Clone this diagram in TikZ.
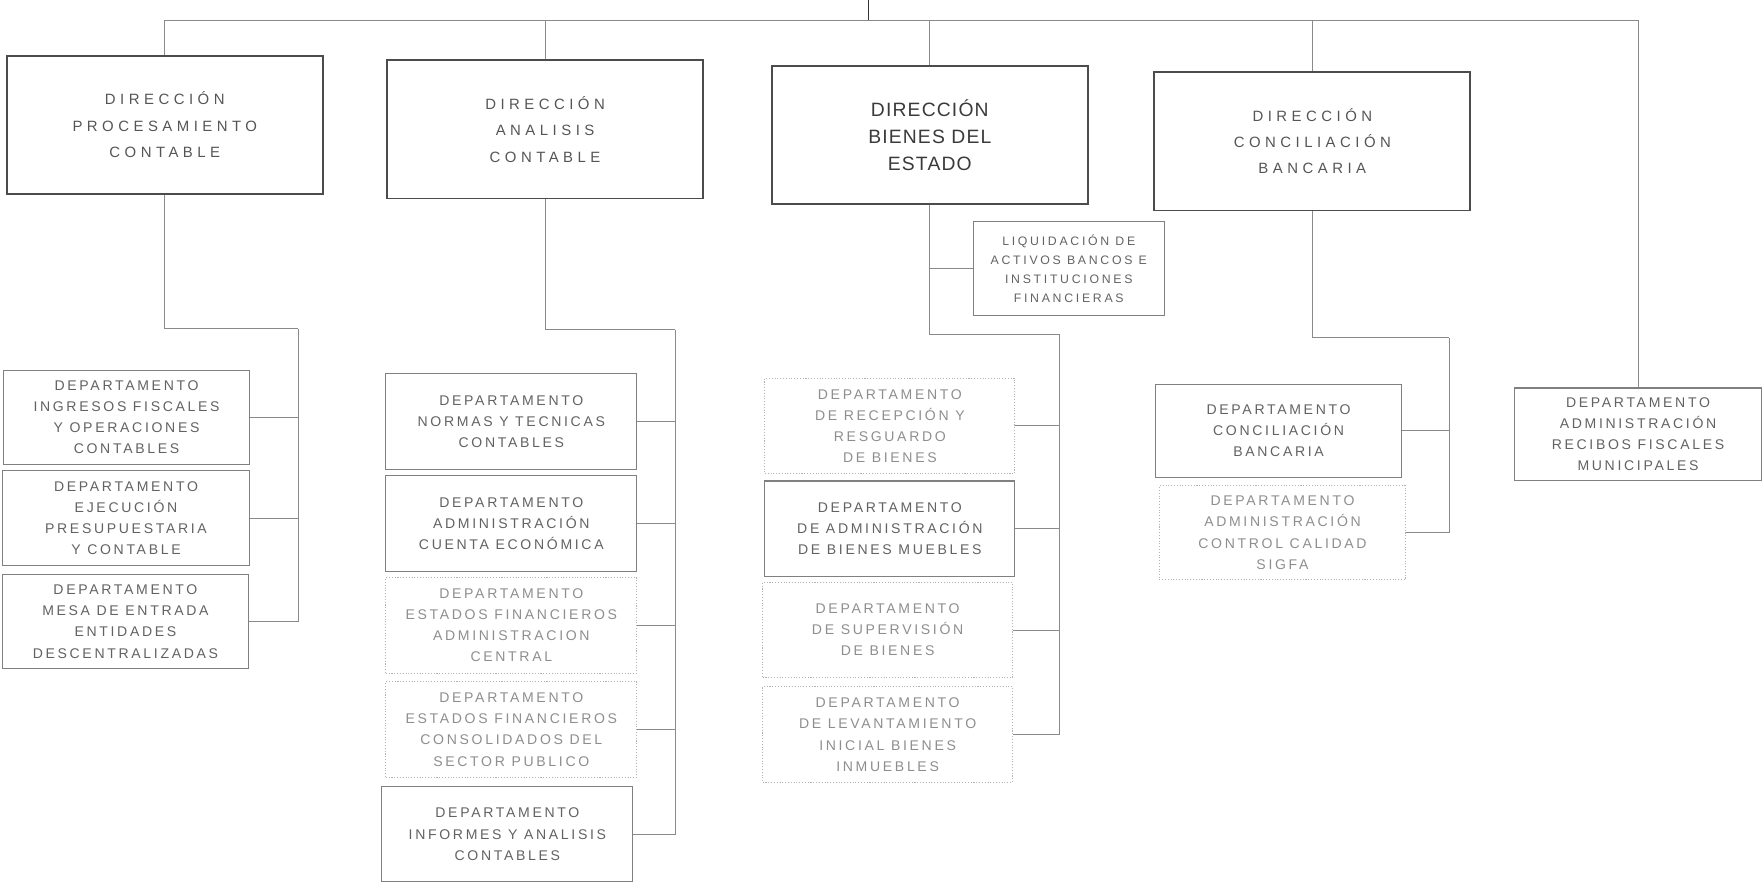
\documentclass[tikz,border=0pt]{standalone}
\usepackage{fontspec}
\setmainfont{Liberation Sans}
\newfontfamily\dirfont{Liberation Sans}[LetterSpace=30]
\newfontfamily\bigfont{Liberation Sans}[LetterSpace=6]
\newfontfamily\depfont{Liberation Sans}[LetterSpace=19]
\newfontfamily\liqfont{Liberation Sans}[LetterSpace=22]
\usepackage{tikz}
\definecolor{ink}{HTML}{555555}
\definecolor{inkd}{HTML}{3A3A3A}
\definecolor{inkl}{HTML}{626262}
\definecolor{inkf}{HTML}{8E8E8E}
\definecolor{wirec}{HTML}{8A8A8A}

\begin{document}
\begin{tikzpicture}
[x=0.0225cm, y=-0.0225cm,
 dirbox/.style={draw=black!70, line width=1pt, minimum width=6.32cm, minimum height=2.77cm, align=center, text=ink, font=\dirfont\fontsize{8.5}{15}\selectfont},
 depbox/.style={draw=black!50, line width=0.6pt, align=center, text=inkl, font=\depfont\fontsize{8}{12}\selectfont},
 faint/.style={draw=black!30, densely dotted, text=inkf},
 c1/.style={depbox, minimum width=4.93cm, minimum height=1.89cm},
 c2/.style={depbox, minimum width=5.02cm, minimum height=1.91cm},
 c3/.style={depbox, minimum width=5.0cm, minimum height=1.91cm},
 c4/.style={depbox, minimum width=4.93cm, minimum height=1.87cm},
 wire/.style={draw=wirec, line width=0.5pt}]
\useasboundingbox (0,0) rectangle (1568,785);
\node[dirbox] (d1) at (146.5,111) {DIRECCIÓN\\PROCESAMIENTO\\CONTABLE};
\node[dirbox] (d2) at (484.5,115) {DIRECCIÓN\\ANALISIS\\CONTABLE};
\node[dirbox, text=inkd, font=\bigfont\fontsize{11}{15.5}\selectfont] (d3) at (826.5,120) {DIRECCIÓN\\BIENES DEL\\ESTADO};
\node[dirbox] (d4) at (1166.5,125.5) {DIRECCIÓN\\CONCILIACIÓN\\BANCARIA};

\node[c1] (p1) at (112.5,371) {DEPARTAMENTO\\INGRESOS FISCALES\\Y OPERACIONES\\CONTABLES};
\node[c1] (p2) at (112,460.5) {DEPARTAMENTO\\EJECUCIÓN\\PRESUPUESTARIA\\Y CONTABLE};
\node[c1] (p3) at (111.5,552.5) {DEPARTAMENTO\\MESA DE ENTRADA\\ENTIDADES\\DESCENTRALIZADAS};

\node[c2] (q1) at (454.5,374.5) {DEPARTAMENTO\\NORMAS Y TECNICAS\\CONTABLES};
\node[c2] (q2) at (454.5,465.5) {DEPARTAMENTO\\ADMINISTRACIÓN\\CUENTA ECONÓMICA};
\node[c2, faint] (q3) at (454.5,556) {DEPARTAMENTO\\ESTADOS FINANCIEROS\\ADMINISTRACION\\CENTRAL};
\node[c2, faint] (q4) at (454.5,648.5) {DEPARTAMENTO\\ESTADOS FINANCIEROS\\CONSOLIDADOS DEL\\SECTOR PUBLICO};
\node[c2] (q5) at (451,741.5) {DEPARTAMENTO\\INFORMES Y ANALISIS\\CONTABLES};

\node[depbox, minimum width=3.83cm, minimum height=1.87cm, font=\liqfont\fontsize{7}{10.8}\selectfont] (liq) at (950,238.5) {LIQUIDACIÓN DE\\ACTIVOS BANCOS E\\INSTITUCIONES\\FINANCIERAS};
\node[c3, faint] (r1) at (791,378.5) {DEPARTAMENTO\\DE RECEPCIÓN Y\\RESGUARDO\\DE BIENES};
\node[c3] (r2) at (791,470) {DEPARTAMENTO\\DE ADMINISTRACIÓN\\DE BIENES MUEBLES};
\node[c3, faint] (r3) at (789,560) {DEPARTAMENTO\\DE SUPERVISIÓN\\DE BIENES};
\node[c3, faint] (r4) at (789,653) {DEPARTAMENTO\\DE LEVANTAMIENTO\\INICIAL BIENES\\INMUEBLES};

\node[c4] (s1) at (1136.5,383) {DEPARTAMENTO\\CONCILIACIÓN\\BANCARIA};
\node[c4, faint] (s2) at (1140,473.5) {DEPARTAMENTO\\ADMINISTRACIÓN\\CONTROL CALIDAD\\SIGFA};

\node[c4, minimum width=4.95cm, minimum height=1.85cm] (m1) at (1456,386) {DEPARTAMENTO\\ADMINISTRACIÓN\\RECIBOS FISCALES\\MUNICIPALES};

\coordinate (top) at (772,0); \coordinate (bus) at (772,18);
\coordinate (b1) at (265,292); \coordinate (b2) at (600,293); \coordinate (b3) at (942,297); \coordinate (b4) at (1288,300);
\draw[black!80, line width=0.6pt] (top)--(bus);
\foreach \n in {d1,d2,d3,d4,m1} \draw[wire] (\n.north) |- (bus);
\draw[wire] (d1.south) |- (b1); \draw[wire] (b1) |- (p3.east);
\foreach \n in {p1,p2} \draw[wire] (\n.east)--(\n.east -| b1);
\draw[wire] (d2.south) |- (b2); \draw[wire] (b2) |- (q5.east);
\foreach \n in {q1,q2,q3,q4} \draw[wire] (\n.east)--(\n.east -| b2);
\draw[wire] (d3.south) |- (b3); \draw[wire] (b3) |- (r4.east);
\draw[wire] (liq.west)--(liq.west -| d3.south);
\foreach \n in {r1,r2,r3} \draw[wire] (\n.east)--(\n.east -| b3);
\draw[wire] (d4.south) |- (b4); \draw[wire] (b4) |- (s2.east);
\draw[wire] (s1.east)--(s1.east -| b4);
\end{tikzpicture}
\end{document}
